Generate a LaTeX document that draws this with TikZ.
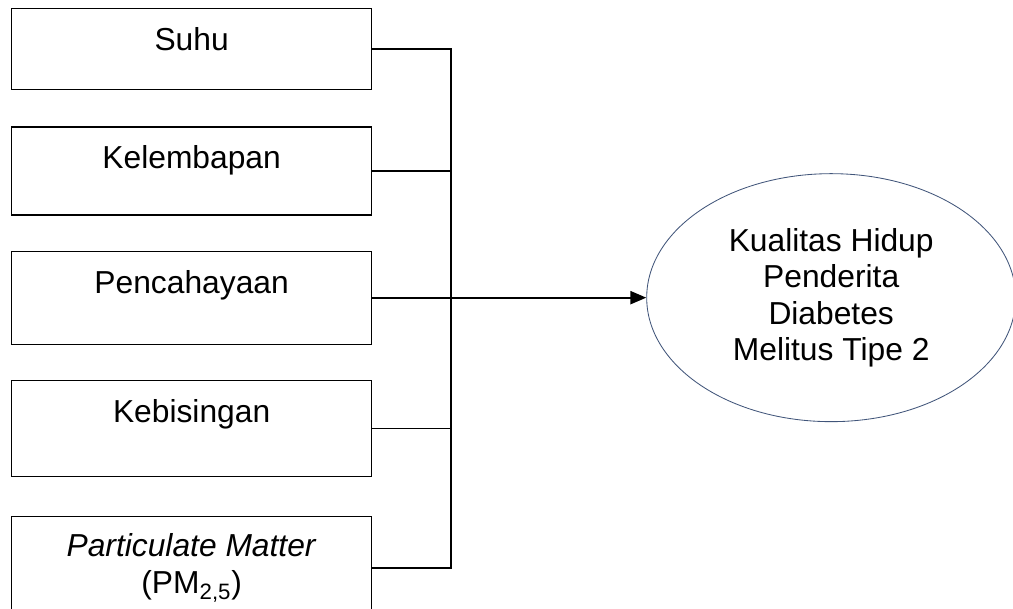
\documentclass[tikz,border=0pt]{standalone}
\usepackage{fontspec}
\setmainfont{Liberation Sans}
\usepackage{tikz}
\usetikzlibrary{shapes.geometric, positioning, arrows.meta, calc}
\definecolor{ellline}{HTML}{41557A}

\begin{document}
\begin{tikzpicture}[
  vbox/.style={draw, rectangle, line width=0.9pt, minimum width=9cm, inner ysep=0pt,
    text height=1.05cm, align=center, font=\fontsize{22.6}{26.5}\selectfont},
  conn/.style={line width=1.3pt},
  >={Triangle[length=0.4cm, width=0.33cm]}
]
  \useasboundingbox (0,0) rectangle (25.325,-15.225);
  \clip (0,0) rectangle (25.325,-15.225);

  % 1. Variable boxes (left column)
  \node[vbox, anchor=north west, text depth=0.975cm] (suhu) at (0.275,-0.2) {Suhu};
  \node[vbox, below=0.9cm of suhu, text depth=1.15cm] (lembap) {Kelembapan};
  \node[vbox, below=0.875cm of lembap, text depth=1.275cm] (cahaya) {Pencahayaan};
  \node[vbox, below=0.875cm of cahaya, text depth=1.35cm] (bising) {Kebisingan};
  \node[vbox, below=0.975cm of bising, text height=1.925cm, text depth=0.625cm] (pm)
    {\textit{Particulate Matter}\\(PM\textsubscript{2,5})};

  % 2. Outcome ellipse
  \node[draw=ellline, line width=0.6pt, ellipse, minimum width=9.225cm, minimum height=6.2cm,
    inner sep=0pt, align=center, font=\fontsize{22.6}{25.8}\selectfont,
    right=6.85cm of cahaya] (kualitas)
    {Kualitas Hidup\\Penderita\\Diabetes\\Melitus Tipe 2};

  % 3. Collecting line
  \coordinate (busx) at (11.275,0);
  \draw[conn] (suhu.east) -- (suhu.east -| busx) -- (pm.east -| busx) -- (pm.east);
  \draw[conn] (lembap.east) -- (lembap.east -| busx);
  \draw[conn] (cahaya.east) -- (cahaya.east -| busx);
  \draw[conn] (bising.east) -- (bising.east -| busx);

  % 4. Arrow to outcome
  \draw[conn, ->] (cahaya.east -| busx) -- (kualitas.west);

\end{tikzpicture}
\end{document}
